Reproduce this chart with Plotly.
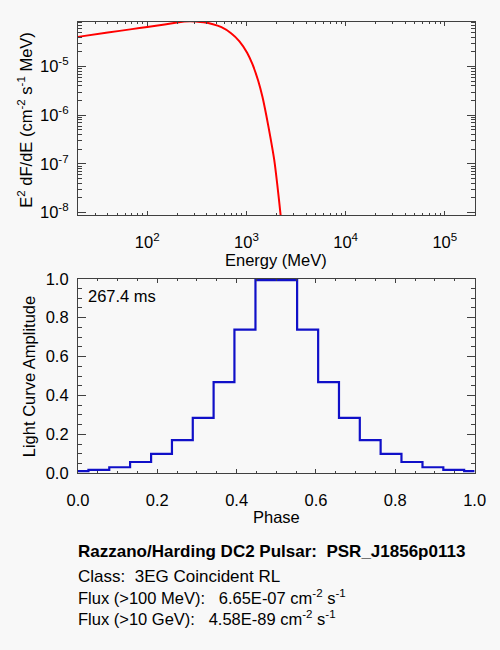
import plotly.graph_objects as go
from plotly.subplots import make_subplots

# spectrum (MeV, E^2 dF/dE)
energy = [20, 40, 70, 100, 150, 200, 236, 270, 309, 370, 450, 560, 700, 850,
          1016, 1150, 1314, 1450, 1585, 1750, 1905, 2050, 2210, 2350]
e2dfde = [4.09e-5, 5.01e-5, 5.90e-5, 6.56e-5, 7.38e-5, 8.04e-5, 8.43e-5, 8.59e-5,
          8.47e-5, 8.13e-5, 7.50e-5, 6.46e-5, 4.85e-5, 3.31e-5, 1.93e-5, 1.12e-5,
          5.13e-6, 2.40e-6, 1.0e-6, 3.39e-7, 1.22e-7, 3.63e-8, 8.91e-9, 2.0e-9]

# light curve (phase, amplitude), drawn as centred steps
phase = [0.0, 0.053, 0.105, 0.158, 0.211, 0.263, 0.316, 0.368, 0.421, 0.474,
         0.526, 0.579, 0.632, 0.684, 0.737, 0.789, 0.842, 0.895, 0.947, 1.0]
amplitude = [0.011, 0.018, 0.031, 0.058, 0.100, 0.170, 0.285, 0.469, 0.739, 0.993,
             0.993, 0.739, 0.469, 0.285, 0.170, 0.100, 0.058, 0.031, 0.018, 0.011]

period_label = "267.4 ms"
title_line = "<b>Razzano/Harding DC2 Pulsar:\u00a0\u00a0PSR_J1856p0113</b>"
class_line = "Class:\u00a0\u00a03EG Coincident RL"
flux_lines = [
    "Flux (>100 MeV):\u00a0\u00a0\u00a06.65E-07 cm<sup>-2</sup> s<sup>-1</sup>",
    "Flux (>10 GeV):\u00a0\u00a0\u00a04.58E-89 cm<sup>-2</sup> s<sup>-1</sup>",
]

bg = "#f8f8f8"
axcol = "#404040"
font = dict(family="Liberation Sans, Arial, sans-serif", size=16.5, color="black")

W, H = 500, 650

def px_x(a, b):
    return [a / W, b / W]

def px_y(top, bottom):
    return [1 - bottom / H, 1 - top / H]

fig = make_subplots(rows=2, cols=1)

fig.add_trace(go.Scatter(x=energy, y=e2dfde, mode="lines",
                         line=dict(color="#ff0000", width=2, shape="spline", smoothing=0.5)),
              row=1, col=1)
fig.add_trace(go.Scatter(x=phase, y=amplitude, mode="lines",
                         line=dict(color="#1010c8", width=2.2, shape="hvh")), row=2, col=1)

common = dict(showline=True, linecolor=axcol, linewidth=1, mirror="allticks",
              ticks="inside", tickcolor=axcol, showgrid=False, zeroline=False,
              tickfont=font)

# upper panel axes
xminor = [m * 10 ** d for d in range(1, 6) for m in range(2, 10)]
yminor = [m * 10.0 ** d for d in range(-9, -4) for m in range(2, 10)]
fig.update_xaxes(type="log", range=[1.301, 5.301], domain=px_x(70, 485),
                 tickvals=[1e2, 1e3, 1e4, 1e5],
                 ticktext=["10<sup>2</sup>", "10<sup>3</sup>", "10<sup>4</sup>", "10<sup>5</sup>"],
                 ticklen=4, ticklabelstandoff=12,
                 minor=dict(ticks="inside", ticklen=2, tickcolor=axcol, tickvals=xminor),
                 row=1, col=1, **common)
fig.update_yaxes(type="log", range=[-8.055, -4.075], domain=px_y(13, 212),
                 tickvals=[1e-8, 1e-7, 1e-6, 1e-5],
                 ticktext=["10<sup>-8</sup>", "10<sup>-7</sup>", "10<sup>-6</sup>", "10<sup>-5</sup>"],
                 ticklen=8, ticklabelstandoff=5,
                 minor=dict(ticks="inside", ticklen=4, tickcolor=axcol, tickvals=yminor),
                 row=1, col=1, **common)

# lower panel axes
fig.update_xaxes(range=[0, 1], domain=px_x(70, 485), dtick=0.2, tickformat=".1f",
                 ticklen=4, ticklabelstandoff=12,
                 minor=dict(ticks="inside", ticklen=2, tickcolor=axcol, dtick=0.05),
                 row=2, col=1, **common)
fig.update_yaxes(range=[0, 1], domain=px_y(277.5, 477.5), dtick=0.2, tickformat=".1f",
                 ticklen=8, ticklabelstandoff=5,
                 minor=dict(ticks="inside", ticklen=4, tickcolor=axcol, dtick=0.05),
                 row=2, col=1, **common)

ann = []

def label(text, x, y, size=16.5, **kw):
    ann.append(dict(text=text, x=x / W, y=1 - y / H, xref="paper", yref="paper",
                    showarrow=False, font=dict(font, size=size), **kw))

label("Energy (MeV)", 277.5, 258.5, xanchor="center", yanchor="middle")
label("Phase", 277.5, 522, xanchor="center", yanchor="middle")
label("E<sup>2</sup> dF/dE (cm<sup>-2</sup> s<sup>-1</sup> MeV)", 14.5, 114,
      xanchor="center", yanchor="middle", textangle=-90)
label("Light Curve Amplitude", 18.5, 378, xanchor="center", yanchor="middle", textangle=-90)
label(period_label, 78, 295, xanchor="left", yanchor="middle")
label(title_line, 68, 558, size=17, xanchor="left", yanchor="middle")
label(class_line, 68, 584, size=17, xanchor="left", yanchor="middle")
label("<br>".join(flux_lines), 68, 616, size=16.5, xanchor="left", yanchor="middle",
      align="left")

fig.update_layout(width=W, height=H, margin=dict(l=0, r=0, t=0, b=0),
                  paper_bgcolor=bg, plot_bgcolor=bg, showlegend=False,
                  font=font, annotations=ann)

fig.write_html("out.html", config={"displayModeBar": False},
               post_script="document.body.style.margin='0';"
                           "document.body.style.background='%s';" % bg)
